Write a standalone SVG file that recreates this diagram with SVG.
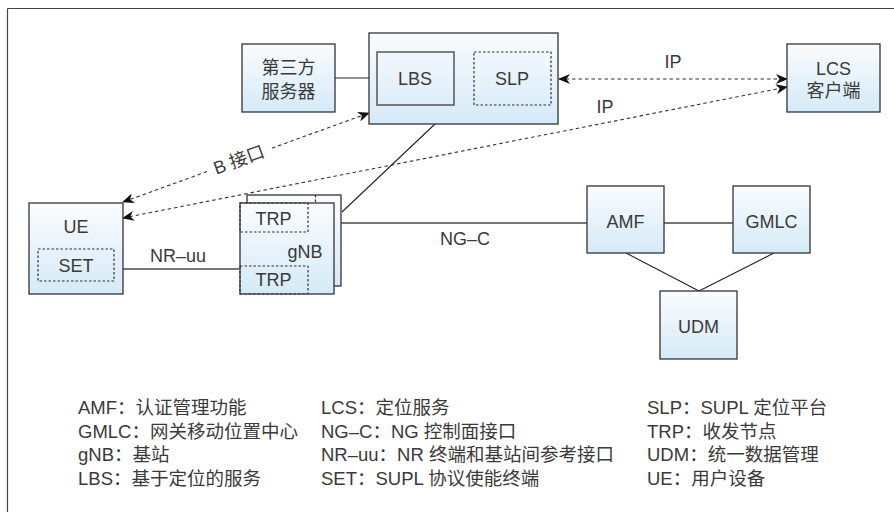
<svg xmlns="http://www.w3.org/2000/svg" width="894" height="512" viewBox="0 0 894 512">
<defs>
<linearGradient id="g" x1="0" y1="0" x2="0" y2="1">
<stop offset="0" stop-color="#fafcfe"/>
<stop offset="1" stop-color="#d4eaf8"/>
</linearGradient>
<marker id="arr" viewBox="0 0 12 10" refX="11" refY="5" markerWidth="12" markerHeight="10" markerUnits="userSpaceOnUse" orient="auto-start-reverse">
<path d="M0,0 L12,5 L0,10 L3.5,5 z" fill="#111"/>
</marker>
<style>
.box{fill:url(#g);stroke:#333;stroke-width:1.3}
.inner{fill:none;stroke:#555;stroke-width:1.5}
.dbox{fill:none;stroke:#333;stroke-width:1.2;stroke-dasharray:2.5,2}
.t{font-family:"Liberation Sans","Noto Sans CJK SC",sans-serif;font-size:18px;fill:#3a3a3a;text-anchor:middle}
.lg{font-family:"Liberation Sans","Noto Sans CJK SC",sans-serif;font-size:18.5px;fill:#3a3a3a}
.sol{stroke:#222;stroke-width:1.1;fill:none}
.gry{stroke:#777;stroke-width:2;fill:none}
.dash{stroke:#333;stroke-width:1.1;stroke-dasharray:3.5,3;fill:none}
</style>
</defs>
<g id="frame">
<line x1="7.5" y1="8.5" x2="894" y2="8.5" stroke="#444" stroke-width="1.2"/>
<line x1="7.5" y1="8.5" x2="7.5" y2="512" stroke="#444" stroke-width="1.2"/>
</g>
<g id="connectors">
<line class="sol" x1="335" y1="78" x2="369" y2="78"/>
<line class="sol" x1="342" y1="212" x2="435" y2="124"/>
<line class="gry" x1="341" y1="223" x2="587" y2="223"/>
<line class="gry" x1="123" y1="269" x2="239" y2="269"/>
<line class="gry" x1="664" y1="223" x2="733" y2="223"/>
<line class="sol" x1="626" y1="253" x2="699" y2="291"/>
<line class="sol" x1="774" y1="253" x2="699" y2="291"/>
<line class="dash" x1="559" y1="79" x2="787" y2="79" marker-start="url(#arr)" marker-end="url(#arr)"/>
<line class="dash" x1="123" y1="218" x2="787" y2="87" marker-start="url(#arr)" marker-end="url(#arr)"/>
<line class="dash" x1="207" y1="171.6" x2="123" y2="202" marker-end="url(#arr)"/>
<line class="dash" x1="272" y1="148.1" x2="369" y2="113" marker-end="url(#arr)"/>
<text class="t" x="673" y="68">IP</text>
<text class="t" x="605" y="113">IP</text>
<text class="t" x="178" y="262">NR–uu</text>
<text class="t" x="465" y="245">NG–C</text>
<text class="t" x="239" y="166" transform="rotate(-20 239 160)">B 接口</text>
</g>
<g id="third-party">
<rect class="box" x="242" y="44" width="93" height="68"/>
<text class="t" x="288.5" y="74">第三方</text>
<text class="t" x="288.5" y="98">服务器</text>
</g>
<g id="lbs-slp">
<rect class="box" x="369" y="33" width="189" height="91"/>
<rect class="inner" x="377" y="52" width="77" height="53"/>
<text class="t" x="415" y="85">LBS</text>
<rect class="dbox" x="474" y="52" width="77" height="53"/>
<text class="t" x="512" y="85">SLP</text>
</g>
<g id="lcs">
<rect class="box" x="787" y="44" width="93" height="68"/>
<text class="t" x="833.5" y="75">LCS</text>
<text class="t" x="833.5" y="97">客户端</text>
</g>
<g id="ue">
<rect class="box" x="29" y="203" width="94" height="91"/>
<text class="t" x="76" y="233">UE</text>
<rect class="dbox" x="38" y="249" width="76" height="32"/>
<text class="t" x="76" y="272">SET</text>
</g>
<g id="gnb">
<rect class="box" x="247" y="195" width="94" height="91"/>
<line x1="315.5" y1="195" x2="315.5" y2="203" stroke="#333" stroke-width="1.2" stroke-dasharray="2.5,2"/>
<rect class="box" x="240" y="203" width="94" height="91"/>
<rect class="dbox" x="240" y="203" width="68" height="29"/>
<rect class="dbox" x="240" y="266" width="68" height="28"/>
<text class="t" x="273.5" y="225">TRP</text>
<text class="t" x="305" y="258">gNB</text>
<text class="t" x="273.5" y="286">TRP</text>
</g>
<g id="amf">
<rect class="box" x="587" y="186" width="77" height="67"/>
<text class="t" x="625.5" y="228">AMF</text>
</g>
<g id="gmlc">
<rect class="box" x="733" y="186" width="77" height="67"/>
<text class="t" x="771.5" y="228">GMLC</text>
</g>
<g id="udm">
<rect class="box" x="660" y="291" width="77" height="68"/>
<text class="t" x="698.5" y="333">UDM</text>
</g>
<g id="legend">
<text class="lg" x="78" y="414">AMF：认证管理功能</text>
<text class="lg" x="78" y="437.5">GMLC：网关移动位置中心</text>
<text class="lg" x="78" y="461">gNB：基站</text>
<text class="lg" x="78" y="484.5">LBS：基于定位的服务</text>
<text class="lg" x="321" y="414">LCS：定位服务</text>
<text class="lg" x="321" y="437.5">NG–C：NG 控制面接口</text>
<text class="lg" x="321" y="461">NR–uu：NR 终端和基站间参考接口</text>
<text class="lg" x="321" y="484.5">SET：SUPL 协议使能终端</text>
<text class="lg" x="647" y="414">SLP：SUPL 定位平台</text>
<text class="lg" x="647" y="437.5">TRP：收发节点</text>
<text class="lg" x="647" y="461">UDM：统一数据管理</text>
<text class="lg" x="647" y="484.5">UE：用户设备</text>
</g>
</svg>
